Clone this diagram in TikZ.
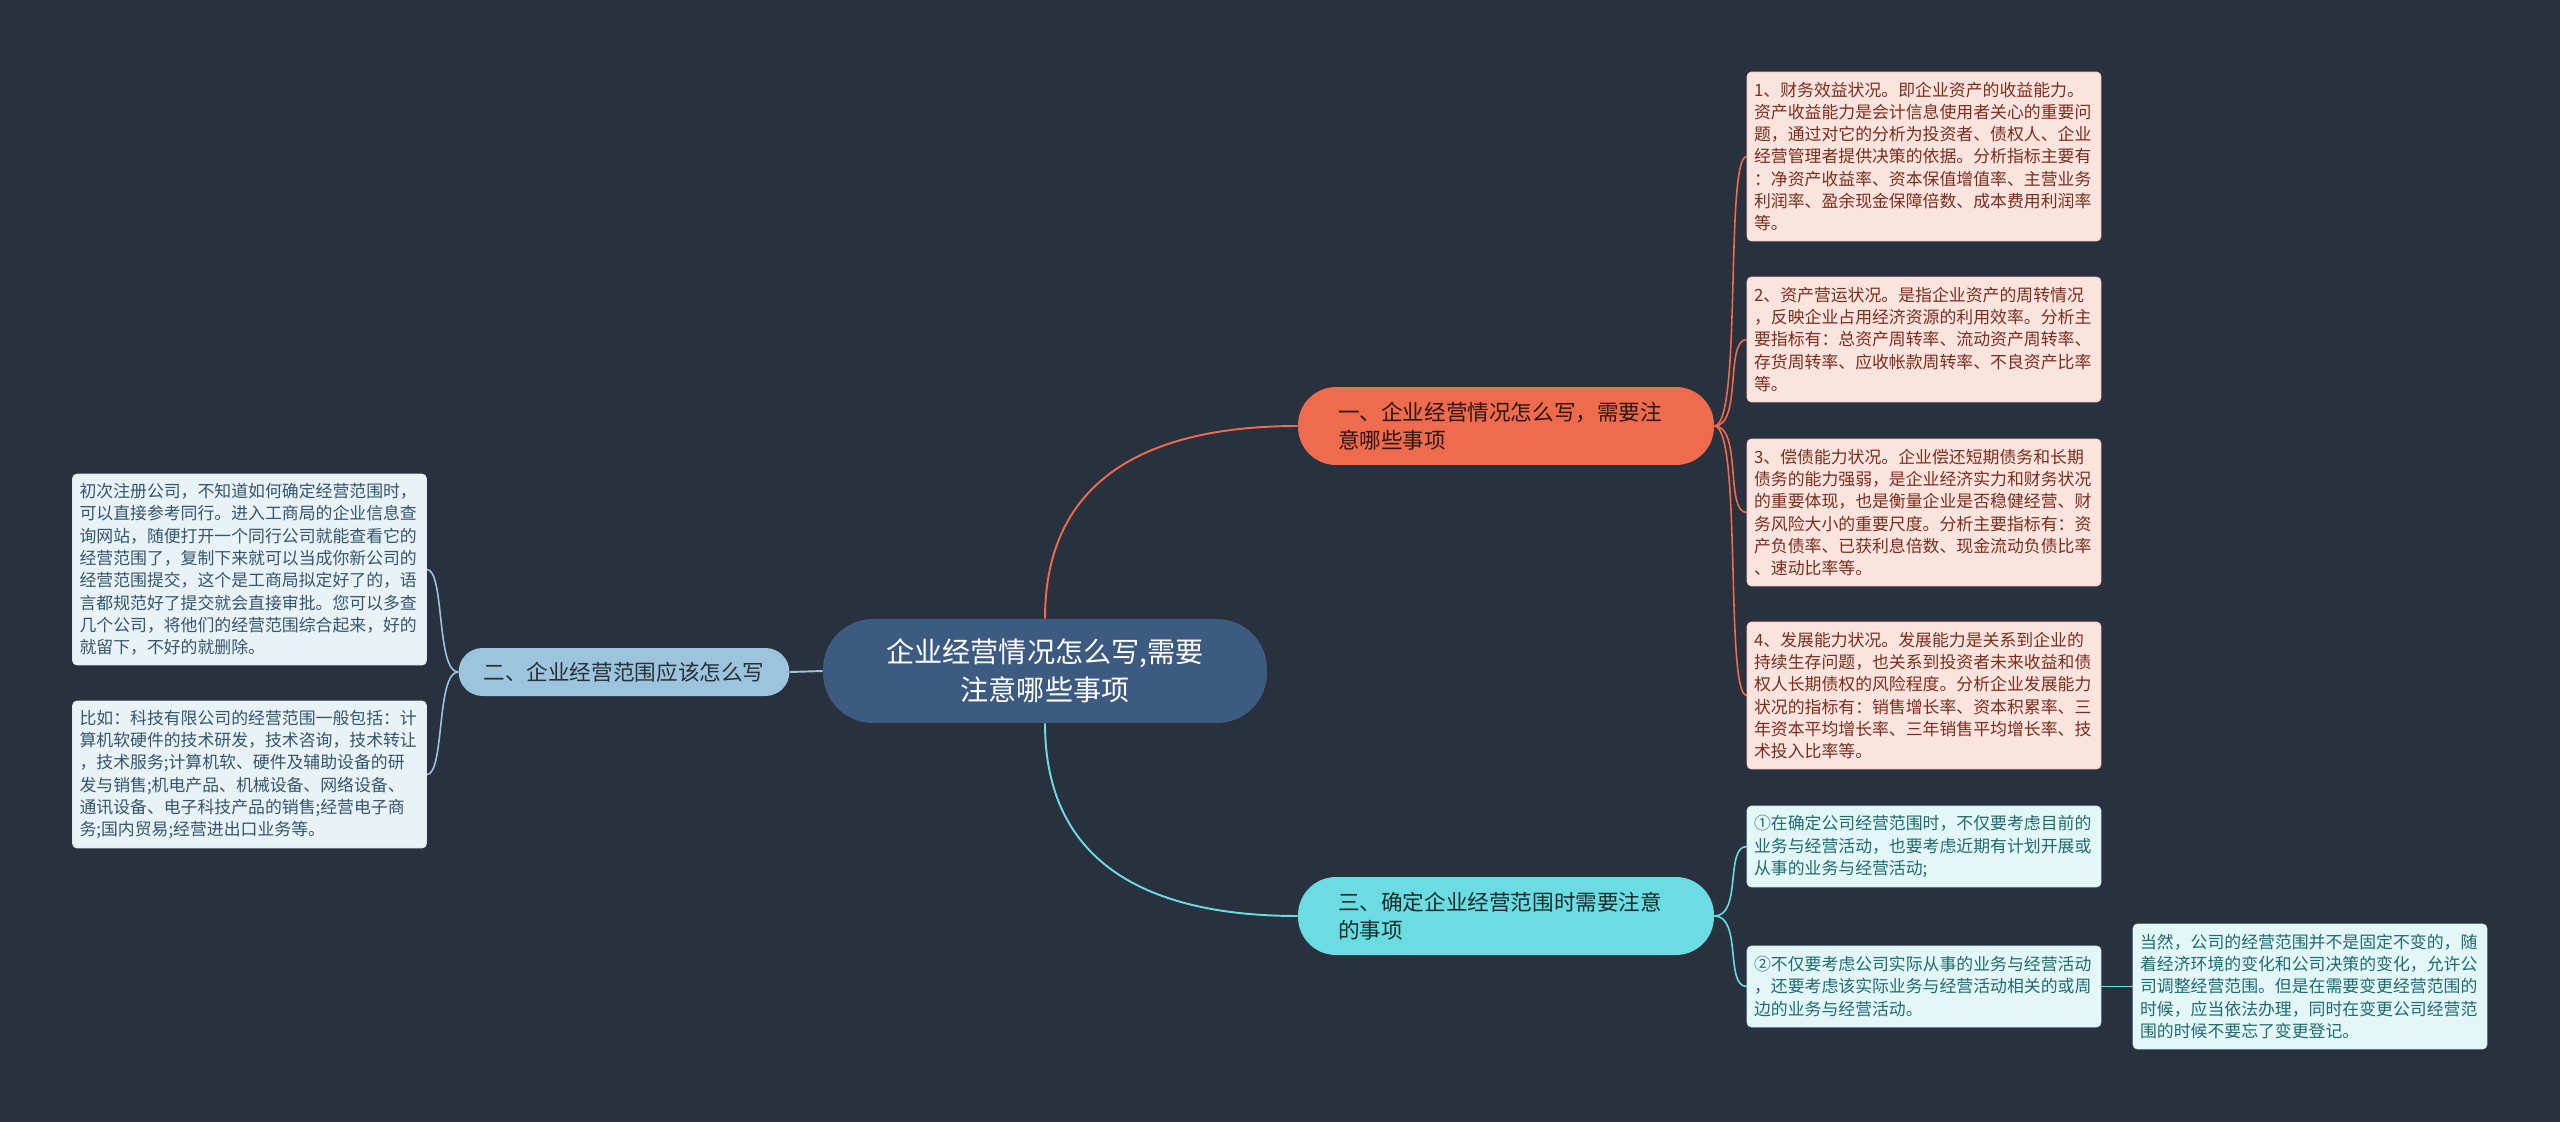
\documentclass[tikz,border=0pt]{standalone}
\usepackage{fontspec}
\setmainfont{Noto Sans CJK SC}
\usepackage{xcolor}
\usepackage{tikz}
\usetikzlibrary{backgrounds}

\definecolor{bgdark}{HTML}{29313F}
\definecolor{rootblue}{HTML}{3D5A80}
\definecolor{orangemain}{HTML}{EE6B4D}
\definecolor{cyanmain}{HTML}{6BDDE2}
\definecolor{bluemain}{HTML}{9DC4DD}
\definecolor{orangeleaf}{HTML}{FCE4DE}
\definecolor{cyanleaf}{HTML}{E3F7F8}
\definecolor{blueleaf}{HTML}{E9F2F7}
\definecolor{orangetext}{HTML}{7A2E1E}
\definecolor{cyantext}{HTML}{1F6B70}
\definecolor{bluetext}{HTML}{34566E}

\begin{document}
\begin{tikzpicture}[
		x=0.02cm, y=-0.02cm,
		rootnode/.style={
			rectangle,
			rounded corners=1.0cm,
			fill=rootblue,
			minimum width=8.88cm,
			minimum height=2.08cm,
			align=center,
			text=white,
			font=\fontsize{16}{21.6}\selectfont
		},
		topicnode/.style={
			rectangle,
			rounded corners=0.76cm,
			minimum width=8.32cm,
			minimum height=1.56cm,
			text width=6.72cm,
			inner xsep=0.8cm,
			align=left,
			font=\fontsize{12.3}{16}\selectfont
		},
		leafbox/.style={
			rectangle,
			rounded corners=2.5pt,
			line width=0.4pt,
			text width=6.8cm,
			inner xsep=0.14cm,
			inner ysep=3pt,
			align=left,
			font=\fontsize{9.6}{12.7}\selectfont
		},
		redleaf/.style={leafbox, fill=orangeleaf, draw=orangeleaf!80!orangemain, text=orangetext},
		cyanleafbox/.style={leafbox, fill=cyanleaf, draw=cyanleaf!80!cyanmain, text=cyantext},
		blueleafbox/.style={leafbox, fill=blueleaf, draw=blueleaf!80!bluemain, text=bluetext},
		mainlink/.style={line width=1.1pt},
		leaflink/.style={line width=0.9pt}
		]
		
		\begin{pgfonlayer}{background}
			\fill[bgdark] (0,0) rectangle (2560,1122);
		\end{pgfonlayer}
		\useasboundingbox (0,0) rectangle (2560,1122);
		
		\node[rootnode] (root) at (1045,671)
		{企业经营情况怎么写,需要\\注意哪些事项};
		
		\node[topicnode, fill=orangemain, text=black!80!orangemain] (topic1) at (1506,426)
		{一、企业经营情况怎么写，需要注\\意哪些事项};
		
		\node[topicnode, fill=bluemain, text=black!75!bluemain, text width=, align=center,
			minimum width=6.62cm, minimum height=0.96cm, inner xsep=4pt, rounded corners=0.48cm] (topic2) at (624,672)
		{二、企业经营范围应该怎么写};
		
		\node[topicnode, fill=cyanmain, text=black!80!cyanmain] (topic3) at (1506,916)
		{三、确定企业经营范围时需要注意\\的事项};
		
		\node[redleaf, minimum height=3.38cm] (fin1) at (1924,156.5)
		{1、财务效益状况。即企业资产的收益能力。\\
		资产收益能力是会计信息使用者关心的重要问\\
		题，通过对它的分析为投资者、债权人、企业\\
		经营管理者提供决策的依据。分析指标主要有\\
		：净资产收益率、资本保值增值率、主营业务\\
		利润率、盈余现金保障倍数、成本费用利润率\\
		等。};
		
		\node[redleaf, minimum height=2.5cm] (fin2) at (1924,339.5)
		{2、资产营运状况。是指企业资产的周转情况\\
		，反映企业占用经济资源的利用效率。分析主\\
		要指标有：总资产周转率、流动资产周转率、\\
		存货周转率、应收帐款周转率、不良资产比率\\
		等。};
		
		\node[redleaf, minimum height=2.94cm] (fin3) at (1924,512.5)
		{3、偿债能力状况。企业偿还短期债务和长期\\
		债务的能力强弱，是企业经济实力和财务状况\\
		的重要体现，也是衡量企业是否稳健经营、财\\
		务风险大小的重要尺度。分析主要指标有：资\\
		产负债率、已获利息倍数、现金流动负债比率\\
		、速动比率等。};
		
		\node[redleaf, minimum height=2.94cm] (fin4) at (1924,695.5)
		{4、发展能力状况。发展能力是关系到企业的\\
		持续生存问题，也关系到投资者未来收益和债\\
		权人长期债权的风险程度。分析企业发展能力\\
		状况的指标有：销售增长率、资本积累率、三\\
		年资本平均增长率、三年销售平均增长率、技\\
		术投入比率等。};
		
		\node[cyanleafbox, minimum height=1.62cm] (scope1) at (1924,846.5)
		{①在确定公司经营范围时，不仅要考虑目前的\\
		业务与经营活动，也要考虑近期有计划开展或\\
		从事的业务与经营活动;};
		
		\node[cyanleafbox, minimum height=1.62cm] (scope2) at (1924,986.5)
		{②不仅要考虑公司实际从事的业务与经营活动\\
		，还要考虑该实际业务与经营活动相关的或周\\
		边的业务与经营活动。};
		
		\node[cyanleafbox, minimum height=2.5cm] (scope3) at (2310,986.5)
		{当然，公司的经营范围并不是固定不变的，随\\
		着经济环境的变化和公司决策的变化，允许公\\
		司调整经营范围。但是在需要变更经营范围的\\
		时候，应当依法办理，同时在变更公司经营范\\
		围的时候不要忘了变更登记。};
		
		\node[blueleafbox, minimum height=3.82cm] (range1) at (249.5,569.5)
		{初次注册公司，不知道如何确定经营范围时，\\
		可以直接参考同行。进入工商局的企业信息查\\
		询网站，随便打开一个同行公司就能查看它的\\
		经营范围了，复制下来就可以当成你新公司的\\
		经营范围提交，这个是工商局拟定好了的，语\\
		言都规范好了提交就会直接审批。您可以多查\\
		几个公司，将他们的经营范围综合起来，好的\\
		就留下，不好的就删除。};
		
		\node[blueleafbox, minimum height=2.94cm] (range2) at (249.5,774.5)
		{比如：科技有限公司的经营范围一般包括：计\\
		算机软硬件的技术研发，技术咨询，技术转让\\
		，技术服务;计算机软、硬件及辅助设备的研\\
		发与销售;机电产品、机械设备、网络设备、\\
		通讯设备、电子科技产品的销售;经营电子商\\
		务;国内贸易;经营进出口业务等。};
		
		\begin{pgfonlayer}{background}
			\draw[mainlink, orangemain] (root.north) .. controls +(0,-140) and +(-150,0) .. (topic1.west);
			\draw[mainlink, cyanmain] (root.south) .. controls +(0,140) and +(-150,0) .. (topic3.west);
			\draw[mainlink, bluemain] (root.west) -- (topic2.east);
			
			\foreach \leaf in {fin1,fin2,fin3,fin4}
				\draw[leaflink, orangemain] (topic1.east) .. controls +(28,0) and +(-22,0) .. (\leaf.west);
			\foreach \leaf in {scope1,scope2}
				\draw[leaflink, cyanmain] (topic3.east) .. controls +(28,0) and +(-22,0) .. (\leaf.west);
			\draw[leaflink, cyanmain] (scope2.east) -- (scope3.west);
			\foreach \leaf in {range1,range2}
				\draw[leaflink, bluemain] (topic2.west) .. controls +(-22,0) and +(18,0) .. (\leaf.east);
		\end{pgfonlayer}
		
	\end{tikzpicture}
\end{document}
